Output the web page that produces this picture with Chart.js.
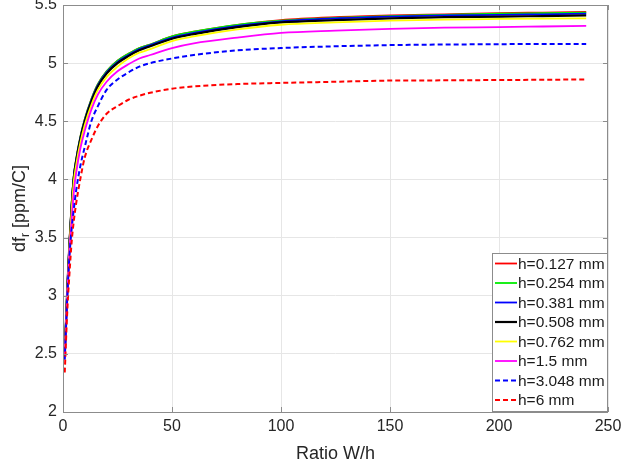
<!DOCTYPE html>
<html>
<head>
<meta charset="utf-8">
<script src="https://cdn.jsdelivr.net/npm/chart.js@4.4.1/dist/chart.umd.min.js"></script>
<style>
    html, body { margin: 0; padding: 0; background: #fff; }
    #caixa { width: 621px; height: 467px; }
</style>
</head>
<body>
<div id="caixa"><canvas id="grafico" width="621" height="467"></canvas></div>
<script>
// Eixo x: razao W/h
const ratio = [0.8, 2, 3, 4, 5, 6, 8, 10, 13, 16, 20, 25, 30, 35, 40, 50, 60, 80, 100, 125, 150, 175, 200, 220, 240];

// df_r [ppm/C] para cada espessura h
const h0127 = [2.51, 3.09, 3.48, 3.80, 4.04, 4.17, 4.37, 4.52, 4.69, 4.82, 4.93, 5.02, 5.08, 5.13, 5.16, 5.23, 5.27, 5.33, 5.37, 5.395, 5.41, 5.42, 5.43, 5.435, 5.44];
const h0254 = [2.51, 3.09, 3.48, 3.80, 4.04, 4.17, 4.37, 4.52, 4.69, 4.82, 4.93, 5.02, 5.08, 5.13, 5.16, 5.23, 5.27, 5.33, 5.365, 5.39, 5.405, 5.415, 5.425, 5.43, 5.435];
const h0381 = [2.50, 3.08, 3.47, 3.79, 4.03, 4.16, 4.36, 4.51, 4.68, 4.81, 4.92, 5.01, 5.07, 5.12, 5.155, 5.22, 5.26, 5.32, 5.36, 5.385, 5.40, 5.41, 5.415, 5.42, 5.425];
const h0508 = [2.50, 3.07, 3.46, 3.78, 4.02, 4.15, 4.35, 4.50, 4.67, 4.80, 4.91, 5.00, 5.06, 5.11, 5.145, 5.21, 5.25, 5.31, 5.35, 5.37, 5.385, 5.395, 5.40, 5.405, 5.41];
const h0762 = [2.49, 3.05, 3.44, 3.75, 3.99, 4.12, 4.32, 4.47, 4.64, 4.77, 4.88, 4.97, 5.04, 5.09, 5.12, 5.19, 5.23, 5.29, 5.33, 5.35, 5.365, 5.375, 5.38, 5.383, 5.385];
const h15 = [2.47, 3.02, 3.40, 3.66, 3.90, 4.05, 4.27, 4.42, 4.60, 4.73, 4.84, 4.93, 4.99, 5.04, 5.07, 5.13, 5.17, 5.22, 5.26, 5.28, 5.295, 5.305, 5.31, 5.315, 5.32];
const h3048 = [2.45, 3.00, 3.35, 3.58, 3.75, 3.90, 4.12, 4.28, 4.50, 4.63, 4.77, 4.86, 4.92, 4.97, 5.00, 5.04, 5.07, 5.11, 5.13, 5.145, 5.155, 5.16, 5.163, 5.165, 5.165];
const h6 = [2.34, 2.88, 3.20, 3.47, 3.65, 3.79, 4.01, 4.19, 4.34, 4.46, 4.565, 4.63, 4.685, 4.72, 4.745, 4.78, 4.80, 4.82, 4.83, 4.84, 4.85, 4.852, 4.855, 4.857, 4.86];

const rotulos = ['h=0.127 mm', 'h=0.254 mm', 'h=0.381 mm', 'h=0.508 mm', 'h=0.762 mm', 'h=1.5 mm', 'h=3.048 mm', 'h=6 mm'];
const series = [h0127, h0254, h0381, h0508, h0762, h15, h3048, h6];
const cores = ['#ff0000', '#00ee00', '#0000ff', '#000000', '#ffff00', '#ff00ff', '#0000ff', '#ff0000'];
const tracos = [[], [], [], [], [], [], [5, 3], [5, 3]];
const espessuras = [1.8, 1.8, 1.8, 2.2, 1.8, 1.8, 2, 2];

const FONTE = "'Liberation Sans', Arial, sans-serif";

// Moldura, legenda e titulos dos eixos (estilo MATLAB)
const moldura = {
    id: 'moldura',
    afterDatasetsDraw(chart) {
        const { ctx, chartArea: a, scales } = chart;
        ctx.save();
        ctx.strokeStyle = '#8c8c8c';
        ctx.lineWidth = 1;
        ctx.strokeRect(a.left + 0.5, a.top + 0.5, a.right - a.left - 1, a.bottom - a.top);
        // marcas para dentro
        ctx.beginPath();
        scales.x.ticks.forEach(t => {
            const px = Math.round(scales.x.getPixelForValue(t.value)) + 0.5;
            ctx.moveTo(px, a.bottom); ctx.lineTo(px, a.bottom - 5);
            ctx.moveTo(px, a.top); ctx.lineTo(px, a.top + 5);
        });
        scales.y.ticks.forEach(t => {
            const py = Math.round(scales.y.getPixelForValue(t.value)) + 0.5;
            ctx.moveTo(a.left, py); ctx.lineTo(a.left + 5, py);
            ctx.moveTo(a.right, py); ctx.lineTo(a.right - 5, py);
        });
        ctx.stroke();
        ctx.restore();
    },
    afterDraw(chart) {
        const { ctx, chartArea: a } = chart;
        ctx.save();

        // legenda
        const lx = 492, ly = 253, lw = 115, lh = 158;
        ctx.fillStyle = '#fff';
        ctx.fillRect(lx, ly, lw, lh);
        ctx.strokeStyle = '#8c8c8c';
        ctx.lineWidth = 1;
        ctx.strokeRect(lx + 0.5, ly + 0.5, lw, lh);
        ctx.font = '15.5px ' + FONTE;
        ctx.textBaseline = 'middle';
        ctx.textAlign = 'left';
        chart.data.datasets.forEach((ds, i) => {
            const y = ly + 10.5 + i * 19.5;
            ctx.beginPath();
            ctx.strokeStyle = ds.borderColor;
            ctx.lineWidth = ds.borderWidth;
            ctx.setLineDash(ds.borderDash);
            ctx.moveTo(lx + 3, y);
            ctx.lineTo(lx + 25, y);
            ctx.stroke();
            ctx.setLineDash([]);
            ctx.fillStyle = '#1a1a1a';
            ctx.fillText(ds.label, lx + 26, y + 1);
        });

        // titulo eixo x
        ctx.fillStyle = '#262626';
        ctx.textAlign = 'center';
        ctx.font = '18px ' + FONTE;
        ctx.fillText('Ratio W/h', (a.left + a.right) / 2, 454);

        // titulo eixo y com subscrito
        ctx.translate(20, (a.top + a.bottom) / 2);
        ctx.rotate(-Math.PI / 2);
        const f1 = '18px ' + FONTE, f2 = '12px ' + FONTE;
        ctx.font = f1; const w1 = ctx.measureText('df').width;
        ctx.font = f2; const w2 = ctx.measureText('r').width;
        ctx.font = f1; const w3 = ctx.measureText(' [ppm/C]').width;
        let x0 = -(w1 + w2 + w3) / 2;
        ctx.textAlign = 'left';
        ctx.font = f1; ctx.fillText('df', x0, 0);
        ctx.font = f2; ctx.fillText('r', x0 + w1, 6);
        ctx.font = f1; ctx.fillText(' [ppm/C]', x0 + w1 + w2, 0);
        ctx.restore();
    }
};

const datasets = series.map((s, i) => ({
    label: rotulos[i],
    data: s.map((v, k) => ({ x: ratio[k], y: v })),
    borderColor: cores[i],
    borderWidth: espessuras[i],
    borderDash: tracos[i],
    pointRadius: 0,
    fill: false,
    cubicInterpolationMode: 'monotone',
    order: series.length - i
}));

new Chart(document.getElementById('grafico'), {
    type: 'line',
    data: { datasets: datasets },
    options: {
        responsive: false,
        animation: false,
        devicePixelRatio: 1,
        layout: { padding: { top: 5, right: 13, left: 0, bottom: 0 } },
        plugins: { legend: { display: false }, tooltip: { enabled: false } },
        scales: {
            x: {
                type: 'linear', min: 0, max: 250,
                ticks: { stepSize: 50, padding: 5, color: '#262626', font: { family: FONTE, size: 16 } },
                grid: { color: '#e6e6e6', drawTicks: false },
                border: { display: false },
                afterFit(scale) { scale.height = 55; scale.paddingLeft = 0; scale.paddingRight = 0; }
            },
            y: {
                min: 2, max: 5.5,
                ticks: { stepSize: 0.5, padding: 6, color: '#262626', font: { family: FONTE, size: 16 },
                    callback: v => String(v) },
                grid: { color: '#e6e6e6', drawTicks: false },
                border: { display: false },
                afterFit(scale) { scale.width = 63; scale.paddingTop = 0; scale.paddingBottom = 0; }
            }
        }
    },
    plugins: [moldura]
});
</script>
</body>
</html>
